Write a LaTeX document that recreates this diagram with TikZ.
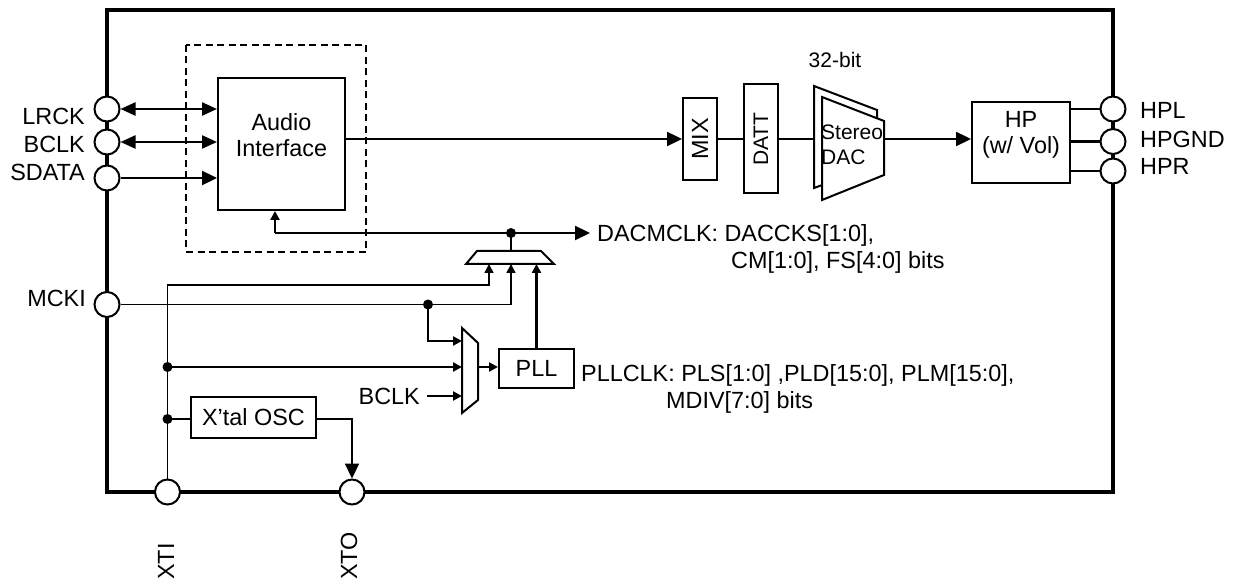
\documentclass[tikz,border=0pt]{standalone}
\usepackage{fontspec}
\setmainfont{Liberation Sans}
\usetikzlibrary{arrows.meta}
\begin{document}
\begin{tikzpicture}[x=1pt,y=-1pt,
  font=\fontsize{23.4}{26}\selectfont,
  pinc/.style={circle,draw,fill=white,line width=2pt,minimum size=25pt,inner sep=0pt},
  blk/.style={draw,line width=2pt,fill=white,inner sep=0pt},
  sig/.style={line width=2.3pt},
  thinl/.style={line width=1.6pt},
  barr/.style={-{Triangle[length=15pt,width=14pt]}},
  dbarr/.style={{Triangle[length=15pt,width=13pt]}-{Triangle[length=15pt,width=13pt]}},
  sarr/.style={-{Triangle[length=9pt,width=9pt]}},
  jdot/.style={circle,fill,inner sep=0pt,minimum size=10pt},
  lbl/.style={inner sep=0pt},
  small/.style={font=\fontsize{21}{25}\selectfont}]
\useasboundingbox (0,0) rectangle (1234,585);

% chip outline and interface boundary
\draw[line width=4pt] (107,10) rectangle (1113,492);
\draw[line width=2.2pt,dash pattern=on 7pt off 4.5pt] (186,45) rectangle (366,252);

% blocks
\node[blk,minimum width=127pt,minimum height=132pt] (ai) at (281.5,144) {};
\node[lbl,align=center] (tai) at (281.5,135) {Audio\\Interface};
\node[blk,minimum width=34pt,minimum height=82pt] (mix) at (700,139) {};
\node[lbl,rotate=90] (tmix) at (mix.center) {MIX};
\node[blk,minimum width=34pt,minimum height=109pt] (datt) at (761,139) {};
\node[lbl,rotate=90,small] (tdatt) at (datt.center) {DATT};
\node[blk,minimum width=98pt,minimum height=81pt] (hp) at (1021,142.5) {};
\node[lbl,align=center] (thp) at (1021,134.5) {HP\\(w/ Vol)};
\node[blk,minimum width=75pt,minimum height=39pt] (pll) at (536.5,368.5) {PLL};
\node[blk,minimum width=125pt,minimum height=41pt] (xosc) at (253.5,417.5) {X’tal OSC};

% DAC (stacked trapezoids)
\filldraw[fill=white,line width=2pt,line join=miter] (814,86) -- (877,110) -- (877,165) -- (814,188) -- cycle;
\filldraw[fill=white,line width=2pt,line join=miter] (822,97) -- (884,121) -- (884,175) -- (822,200) -- cycle;
\coordinate (dacin) at (814,139);
\coordinate (dacout) at (884,139);
\node[lbl,small,anchor=west] (tster) at (821,132) {Stereo};
\node[lbl,small,anchor=west] (tdac) at (821,157) {DAC};
\node[lbl,small] (t32) at (835,60) {32-bit};

% multiplexers
\filldraw[fill=white,line width=2pt] (477,251) -- (541,251) -- (554,264) -- (466,264) -- cycle;
\filldraw[fill=white,line width=2pt] (462,328) -- (478,343) -- (478,400) -- (462,413) -- cycle;
\coordinate (m1a) at (489,264);
\coordinate (m1b) at (511,264);
\coordinate (m1c) at (536.5,264);
\coordinate (m1o) at (511,251);
\coordinate (m2a) at (462,341);
\coordinate (m2b) at (462,367);
\coordinate (m2c) at (462,396);
\coordinate (m2o) at (478,367);

% pins
\node[pinc] (lrck) at (107,109) {};
\node[pinc] (bclk) at (107,142) {};
\node[pinc] (sdata) at (107,178) {};
\node[pinc] (mcki) at (107,304.5) {};
\node[pinc] (hpl) at (1113,109) {};
\node[pinc] (hpgnd) at (1113,141.5) {};
\node[pinc] (hpr) at (1113,171) {};
\node[pinc] (xti) at (167.5,492) {};
\node[pinc] (xto) at (352,492) {};

% pin labels
\node[lbl,anchor=east] (llrck) at (85,116) {LRCK};
\node[lbl,anchor=east] (lbclk) at (85,144) {BCLK};
\node[lbl,anchor=east] (lsdata) at (85,172) {SDATA};
\node[lbl,anchor=east] (lmcki) at (86,298) {MCKI};
\node[lbl,anchor=west] (lhpl) at (1140,110) {HPL};
\node[lbl,anchor=west] (lhpgnd) at (1140,139) {HPGND};
\node[lbl,anchor=west] (lhpr) at (1140,166) {HPR};
\node[lbl,rotate=90,anchor=west] (lxti) at (166,580) {XTI};
\node[lbl,rotate=90,anchor=west] (lxto) at (349,580) {XTO};

% serial audio inputs
\draw[sig,dbarr] (lrck.east) -- (ai.west |- lrck);
\draw[sig,dbarr] (bclk.east) -- (ai.west |- bclk);
\draw[sig,barr] (sdata.east) -- (ai.west |- sdata);

% data path
\draw[sig,barr] (ai.east |- mix.west) -- (mix.west);
\draw[sig] (mix.east) -- (datt.west |- mix.east);
\draw[sig] (datt.east) -- (dacin);
\draw[sig,barr] (dacout) -- (hp.west |- dacout);
\draw[sig] (hp.east |- hpl) -- (hpl.west);
\draw[sig] (hp.east |- hpgnd) -- (hpgnd.west);
\draw[sig] (hp.east |- hpr) -- (hpr.west);

% DACMCLK distribution
\coordinate (aiclk) at (275,233);
\coordinate (dacmend) at (590,233);
\node[jdot] (d3) at (511,233) {};
\draw[sig,barr] (aiclk) -- (dacmend);
\draw[sig,sarr] (aiclk) -- (aiclk |- ai.south);
\draw[sig] (m1o) -- (d3.center);
\node[lbl,anchor=west] (ldacm) at (597,235) {DACMCLK: DACCKS[1:0],};
\node[lbl,anchor=west] (ldacm2) at (731,262) {CM[1:0], FS[4:0] bits};

% clock sources
\coordinate (xtc) at (167.5,285);
\draw[thinl,sarr] (xti.north) -- (xtc) -- (m1a |- xtc) -- (m1a);
\node[jdot] (d1) at (428,304.5) {};
\draw[thinl,sarr] (mcki.east) -- (m1b |- mcki) -- (m1b);
\draw[sig,sarr] (d1.center) -- (d1 |- m2a) -- (m2a);
\node[jdot] (d2) at (167.5,367) {};
\draw[sig,sarr] (d2.center) -- (m2b);
\node[lbl,anchor=east] (lbclk2) at (420,396) {BCLK};
\draw[sig,sarr] ([xshift=7pt]lbclk2.east) -- (m2c);
\draw[sig,sarr] (m2o) -- (pll.west |- m2o);
\draw[sig,sarr] (pll.north) -- (m1c);
\node[lbl,anchor=west] (lpll) at (581,375) {PLLCLK: PLS[1:0] ,PLD[15:0], PLM[15:0],};
\node[lbl,anchor=west] (lpll2) at (666,402) {MDIV[7:0] bits};

% crystal oscillator
\node[jdot] (d4) at (167.5,419) {};
\draw[sig] (d4.center) -- (xosc.west |- d4);
\draw[sig,barr] (xosc.east |- d4) -- (xto |- d4) -- (xto.north);
\end{tikzpicture}
\end{document}
